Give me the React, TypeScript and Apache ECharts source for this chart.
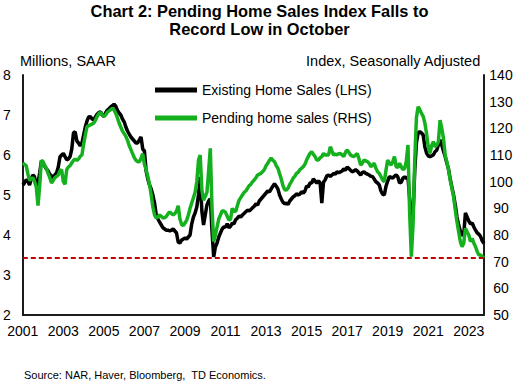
import React, { useEffect, useRef } from "react";
import * as echarts from "echarts";

// Monthly data, Jan 2001 – Oct 2023
const years = [
  2001, 2002, 2003, 2004, 2005, 2006, 2007, 2008, 2009, 2010, 2011, 2012,
  2013, 2014, 2015, 2016, 2017, 2018, 2019, 2020, 2021, 2022, 2023,
];
const lastYearMonths = 10;

const tickYears = ["2001", "2003", "2005", "2007", "2009", "2011", "2013", "2015", "2017", "2019", "2021", "2023"];

// Existing Home Sales (LHS), millions SAAR
const existing2001 = [5.25, 5.3, 5.38, 5.35, 5.25, 5.4, 5.5, 5.45, 5.25, 5.3, 5.55, 5.85];
const existing2002 = [5.8, 5.72, 5.65, 5.6, 5.52, 5.48, 5.42, 5.5, 5.55, 5.7, 5.95, 6.0];
const existing2003 = [6.04, 5.96, 5.88, 5.9, 5.96, 6.15, 6.55, 6.58, 6.35, 6.3, 6.23, 6.3];
const existing2004 = [6.5, 6.7, 6.85, 6.95, 6.96, 6.9, 6.88, 6.95, 7.02, 7.06, 7.08, 7.0];
const existing2005 = [6.96, 7.05, 7.12, 7.15, 7.2, 7.23, 7.27, 7.22, 7.12, 7.05, 7.0, 6.9];
const existing2006 = [6.83, 6.7, 6.6, 6.52, 6.45, 6.4, 6.35, 6.3, 6.3, 6.38, 6.45, 6.15];
const existing2007 = [6.1, 5.6, 5.4, 5.25, 5.15, 5.0, 4.8, 4.5, 4.4, 4.32, 4.25, 4.18];
const existing2008 = [4.15, 4.12, 4.12, 4.1, 4.12, 4.15, 4.1, 4.05, 3.82, 3.8, 3.87, 3.9];
const existing2009 = [3.92, 3.9, 3.95, 4.0, 4.28, 4.45, 4.55, 4.7, 5.0, 5.45, 4.6, 4.25];
const existing2010 = [4.5, 4.75, 4.85, 4.9, 4.1, 3.45, 3.7, 3.8, 3.95, 4.05, 4.15, 4.2];
const existing2011 = [4.2, 4.28, 4.18, 4.22, 4.3, 4.28, 4.38, 4.42, 4.47, 4.45, 4.5, 4.54];
const existing2012 = [4.58, 4.62, 4.6, 4.64, 4.68, 4.72, 4.78, 4.75, 4.85, 4.9, 4.95, 5.0];
const existing2013 = [5.05, 5.1, 5.08, 5.15, 5.22, 5.28, 5.22, 5.15, 5.0, 4.9, 4.82, 4.78];
const existing2014 = [4.8, 4.76, 4.85, 4.9, 4.95, 4.98, 5.03, 5.0, 5.02, 5.08, 5.05, 5.1];
const existing2015 = [5.22, 5.2, 5.3, 5.3, 5.4, 5.35, 5.3, 5.35, 5.3, 4.8, 5.32, 5.38];
const existing2016 = [5.48, 5.5, 5.46, 5.5, 5.54, 5.52, 5.58, 5.56, 5.58, 5.6, 5.65, 5.62];
const existing2017 = [5.7, 5.66, 5.62, 5.58, 5.6, 5.63, 5.6, 5.55, 5.5, 5.56, 5.58, 5.54];
const existing2018 = [5.52, 5.5, 5.47, 5.46, 5.4, 5.33, 5.3, 5.25, 5.1, 5.02, 5.0, 5.22];
const existing2019 = [5.35, 5.46, 5.44, 5.42, 5.47, 5.5, 5.45, 5.3, 5.32, 5.42, 5.45, 5.42];
const existing2020 = [5.45, 4.9, 4.2, 4.5, 5.6, 6.3, 6.55, 6.58, 6.55, 6.5, 6.2, 6.05];
const existing2021 = [5.98, 5.96, 5.98, 6.0, 6.08, 6.12, 6.25, 6.38, 6.25, 6.1, 5.96, 5.8];
const existing2022 = [5.65, 5.4, 5.2, 5.0, 4.75, 4.45, 4.25, 4.1, 4.0, 4.0, 4.55, 4.45];
const existing2023 = [4.35, 4.28, 4.3, 4.2, 4.12, 4.05, 4.02, 3.96, 3.85, 3.79];

// Pending Home Sales Index (RHS)
const pending2001 = [107, 106.5, 106, 103, 100.5, 101, 101.5, 100, 98, 91, 98.5, 108];
const pending2002 = [107.5, 106, 105, 103, 101.5, 99.5, 100.5, 101.5, 102, 102.5, 104, 104.5];
const pending2003 = [100, 99, 104.5, 105.5, 106, 107, 108, 108.5, 108, 108.5, 109.5, 110];
const pending2004 = [114, 117.5, 120.6, 121, 121.3, 121.6, 122, 123, 124.4, 125.5, 126, 125];
const pending2005 = [124.5, 125, 126, 126.5, 127, 127.5, 127, 125.6, 124, 122, 120.5, 119];
const pending2006 = [118, 117, 115.5, 113.5, 112, 110.5, 109, 108, 107.5, 107.5, 108.8, 110.5];
const pending2007 = [106.5, 104.5, 102, 99, 95, 90.5, 87.5, 86.3, 86.8, 87.5, 87, 86.3];
const pending2008 = [86.5, 87, 88, 88.7, 88, 87.5, 88, 89, 91, 86, 84, 83.5];
const pending2009 = [84.5, 85.5, 87.5, 90, 92, 94, 96, 100, 108, 110, 97, 93];
const pending2010 = [94.5, 96, 104, 112.5, 90, 77.5, 80, 83, 86, 87.5, 89, 89];
const pending2011 = [88.5, 87, 85.6, 86, 90, 89, 88.8, 91, 93, 94, 95, 96];
const pending2012 = [96.5, 97.5, 98.5, 99, 100, 100.6, 101.5, 102.5, 102.8, 103.1, 103.8, 104.5];
const pending2013 = [106, 106.9, 108, 108.8, 108, 107.5, 106, 105, 103, 101, 98.5, 97];
const pending2014 = [96.9, 97.5, 99, 100, 101.3, 102, 103.1, 103.5, 104.5, 105, 105.6, 106.5];
const pending2015 = [108.1, 109.4, 110.6, 111.2, 110.3, 109.4, 108.1, 108.1, 109, 109.4, 110.6, 110];
const pending2016 = [110, 110, 113.1, 111.5, 110, 110.3, 110, 110.5, 110.6, 110, 109.4, 111];
const pending2017 = [111.9, 111, 110, 109.6, 109.4, 110, 110.6, 108.5, 106.25, 107, 108.1, 107.8];
const pending2018 = [107.5, 106.9, 105.6, 106.25, 106.9, 105, 103.75, 103.1, 101.9, 100.6, 100, 104.4];
const pending2019 = [108.1, 107, 106.25, 107.5, 109.4, 105.6, 105.3, 106.9, 105.6, 104.5, 105, 107.5];
const pending2020 = [113.75, 88, 71.9, 84, 108, 124, 128.1, 127, 125.6, 124.5, 122, 118];
const pending2021 = [113, 110.6, 113.5, 115, 113.1, 113.75, 115, 123.1, 120, 116.25, 110, 107.5];
const pending2022 = [104.4, 100.6, 97.5, 94.4, 89.4, 85, 81.25, 77.5, 75.6, 76.9, 82.5, 81.25];
const pending2023 = [80, 77.5, 78.75, 76.9, 75.6, 73.75, 72.5, 72.5, 71.9, 71.4];

const recordLow = 71.4;

const existingSales = [
  ...existing2001, ...existing2002, ...existing2003, ...existing2004, ...existing2005,
  ...existing2006, ...existing2007, ...existing2008, ...existing2009, ...existing2010,
  ...existing2011, ...existing2012, ...existing2013, ...existing2014, ...existing2015,
  ...existing2016, ...existing2017, ...existing2018, ...existing2019, ...existing2020,
  ...existing2021, ...existing2022, ...existing2023,
];
const pendingSales = [
  ...pending2001, ...pending2002, ...pending2003, ...pending2004, ...pending2005,
  ...pending2006, ...pending2007, ...pending2008, ...pending2009, ...pending2010,
  ...pending2011, ...pending2012, ...pending2013, ...pending2014, ...pending2015,
  ...pending2016, ...pending2017, ...pending2018, ...pending2019, ...pending2020,
  ...pending2021, ...pending2022, ...pending2023,
];

const categories: string[] = [];
years.forEach((y, yi) => {
  const n = yi === years.length - 1 ? lastYearMonths : 12;
  for (let m = 1; m <= n; m++) categories.push(`${y}-${m < 10 ? "0" + m : m}`);
});

const FONT = "'Liberation Sans', Arial, sans-serif";
const AXIS_COLOR = "#1c1c1c";
const GREEN = "#14b01e";

export default function App() {
  const ref = useRef<HTMLDivElement>(null);

  useEffect(() => {
    if (!ref.current) return;
    const chart = echarts.init(ref.current, undefined, { renderer: "svg" });
    chart.setOption({
      animation: false,
      backgroundColor: "#ffffff",
      textStyle: { fontFamily: FONT },
      title: [
        {
          text: "Chart 2: Pending Home Sales Index Falls to",
          left: "center",
          top: 3,
          padding: 0,
          textStyle: { fontSize: 16.4, fontWeight: "bold", color: "#000", fontFamily: FONT },
        },
        {
          text: "Record Low in October",
          left: "center",
          top: 21,
          padding: 0,
          textStyle: { fontSize: 16.4, fontWeight: "bold", color: "#000", fontFamily: FONT },
        },
        {
          text: "Millions, SAAR",
          left: 20,
          top: 53,
          padding: 0,
          textStyle: { fontSize: 14.5, fontWeight: "normal", color: "#000", fontFamily: FONT },
        },
        {
          text: "Index, Seasonally Adjusted",
          right: 38,
          top: 53,
          padding: 0,
          textStyle: { fontSize: 14.5, fontWeight: "normal", color: "#000", fontFamily: FONT },
        },
        {
          text: "Source: NAR, Haver, Bloomberg,  TD Economics.",
          left: 24,
          top: 369,
          padding: 0,
          textStyle: { fontSize: 11, fontWeight: "normal", color: "#000", fontFamily: FONT },
        },
      ],
      legend: {
        orient: "vertical",
        left: 155,
        top: 83,
        padding: 0,
        itemWidth: 42,
        itemHeight: 5,
        itemGap: 14,
        icon: "rect",
        textStyle: { fontSize: 14, color: "#000", fontFamily: FONT },
        data: ["Existing Home Sales (LHS)", "Pending home sales (RHS)"],
      },
      grid: { left: 22, right: 35, top: 75, bottom: 71 },
      xAxis: {
        type: "category",
        data: categories,
        boundaryGap: false,
        axisLine: { show: true, lineStyle: { color: AXIS_COLOR, width: 2 } },
        axisTick: { show: false },
        splitLine: { show: false },
        axisLabel: {
          interval: (_i: number, v: string) => v.slice(5) === "01" && tickYears.includes(v.slice(0, 4)),
          formatter: (v: string) => v.slice(0, 4),
          fontSize: 14,
          color: "#000",
          margin: 9,
          fontFamily: FONT,
        },
      },
      yAxis: [
        {
          type: "value",
          position: "left",
          min: 2,
          max: 8,
          interval: 1,
          axisLine: { show: true, lineStyle: { color: AXIS_COLOR, width: 2 } },
          axisTick: { show: false },
          splitLine: { show: false },
          axisLabel: { fontSize: 14, color: "#000", margin: 12, fontFamily: FONT },
        },
        {
          type: "value",
          position: "right",
          min: 50,
          max: 140,
          interval: 10,
          axisLine: { show: true, lineStyle: { color: AXIS_COLOR, width: 2 } },
          axisTick: { show: false },
          splitLine: { show: false },
          axisLabel: { fontSize: 14, color: "#000", margin: 17, align: "center", fontFamily: FONT },
        },
      ],
      series: [
        {
          name: "Existing Home Sales (LHS)",
          type: "line",
          yAxisIndex: 0,
          data: existingSales,
          showSymbol: false,
          symbol: "none",
          color: "#000000",
          lineStyle: { color: "#000000", width: 3.5 },
        },
        {
          name: "Pending home sales (RHS)",
          type: "line",
          yAxisIndex: 1,
          data: pendingSales,
          showSymbol: false,
          symbol: "none",
          color: GREEN,
          lineStyle: { color: GREEN, width: 3.5 },
          markLine: {
            silent: true,
            symbol: "none",
            label: { show: false },
            lineStyle: { color: "#c00000", type: [5, 3], width: 2 },
            data: [{ yAxis: recordLow }],
          },
        },
      ],
    });
    return () => chart.dispose();
  }, []);

  return (
    <div
      ref={ref}
      style={{ position: "absolute", left: 0, top: 0, width: 519, height: 386 }}
    />
  );
}
